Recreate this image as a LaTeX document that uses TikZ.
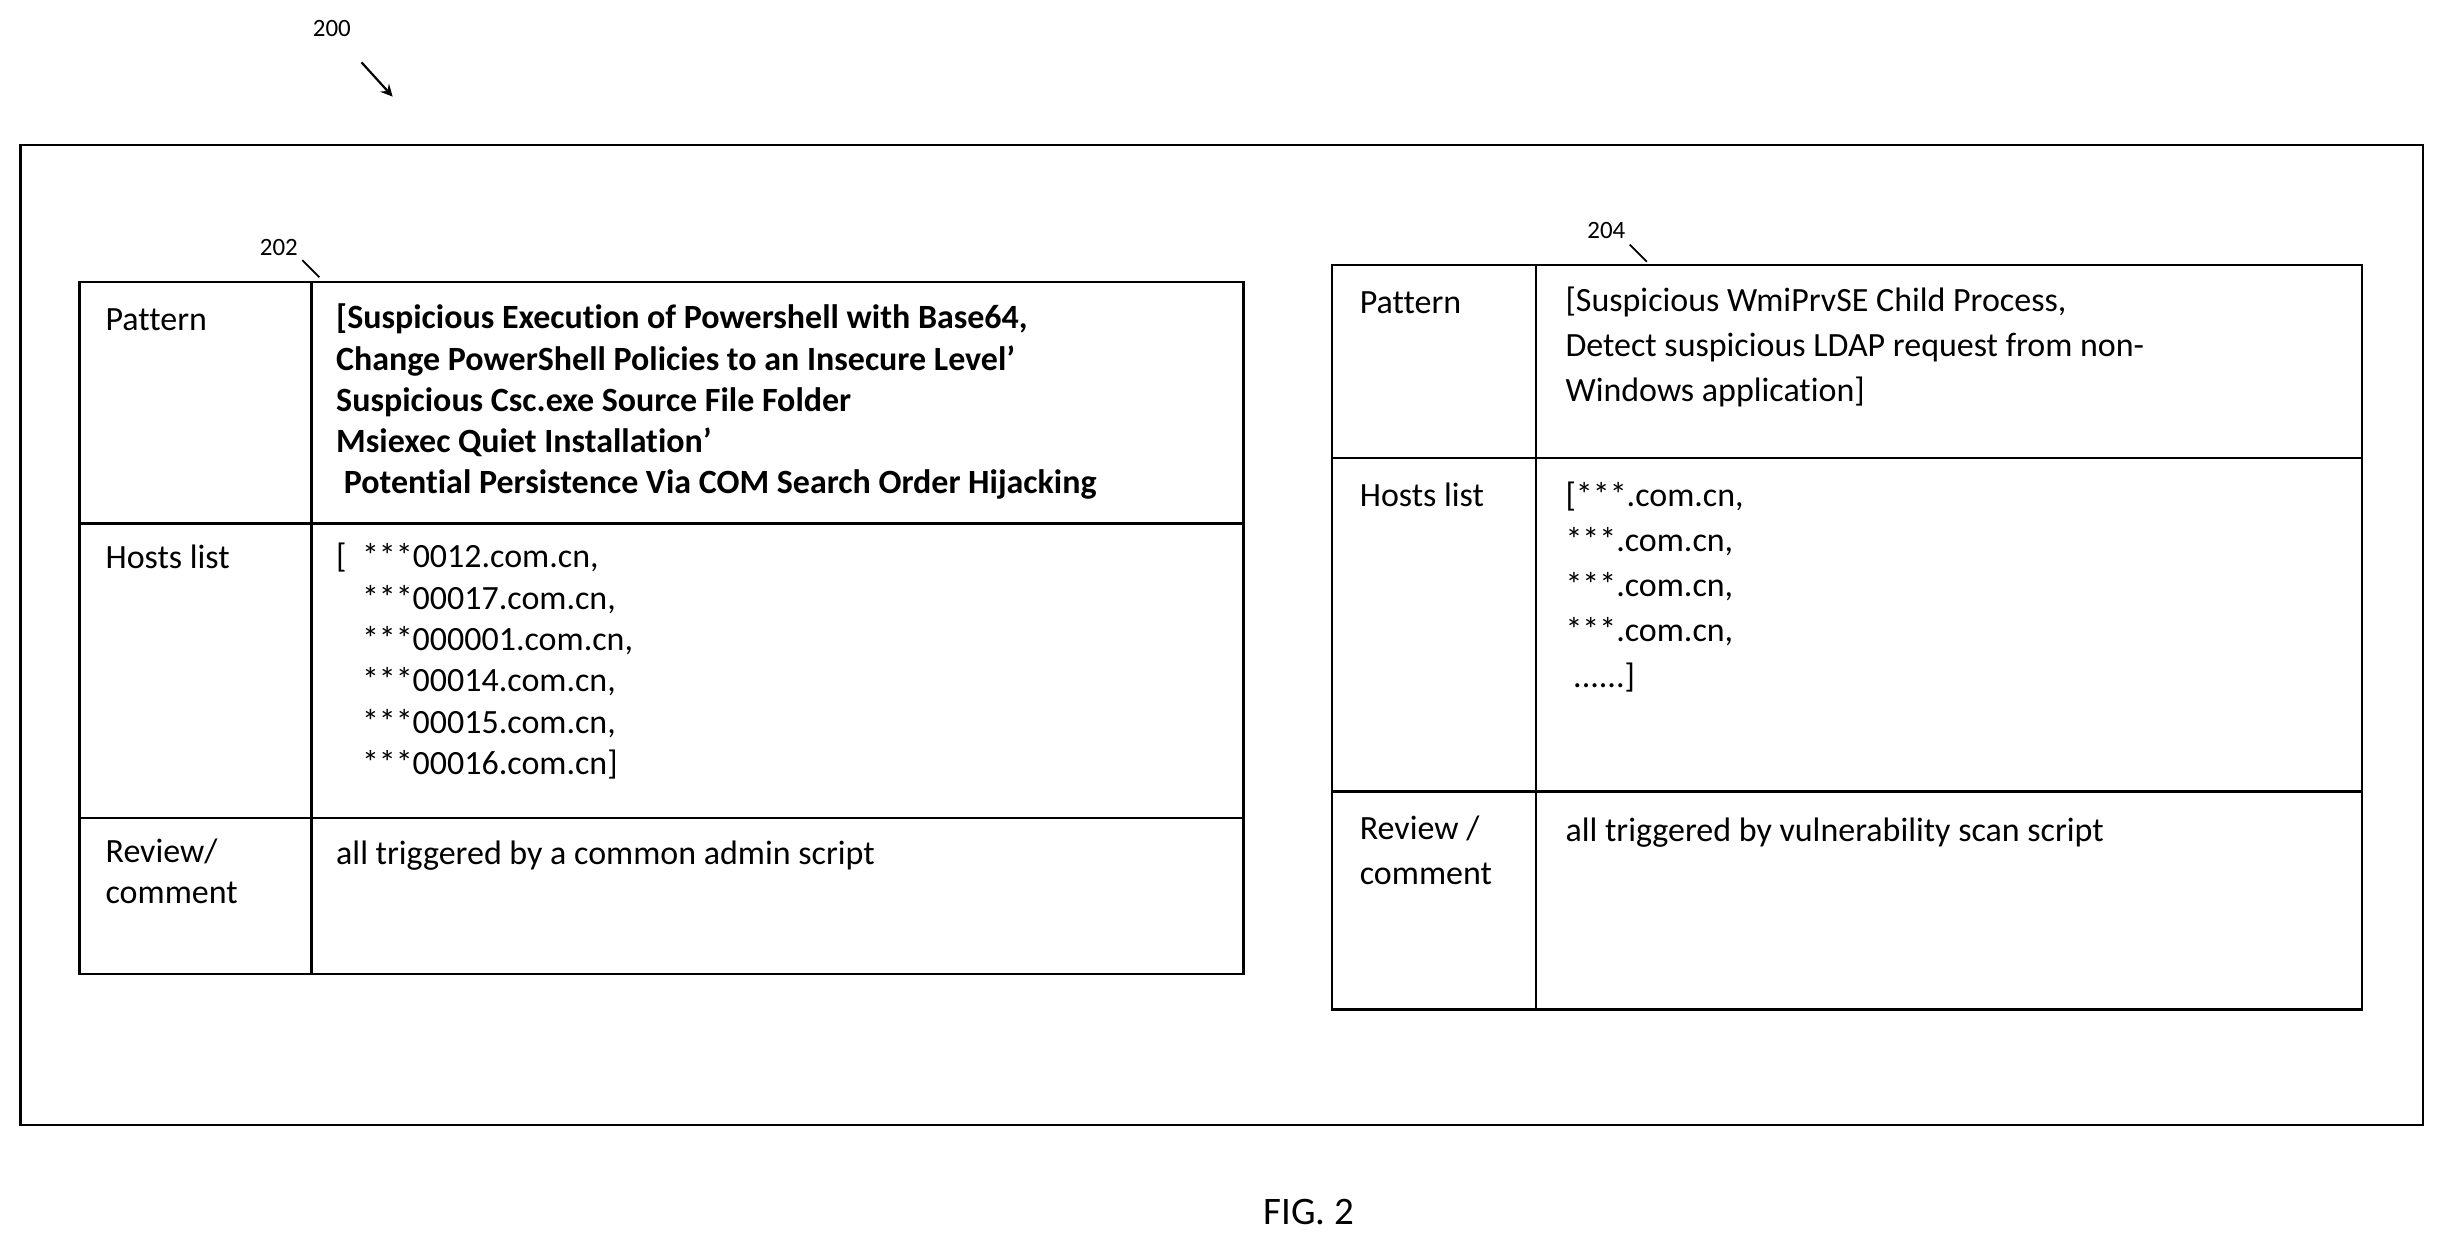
\documentclass[tikz,border=0pt]{standalone}
\usepackage{fontspec}
\setmainfont{Carlito}[RawFeature={-liga}]
\begin{document}
\begin{tikzpicture}[x=0.5pt,y=-0.5pt,line width=0.8pt,
  txt/.style={anchor=base west,inner sep=0pt,align=left,font=\fontsize{10.9}{13.25}\selectfont},
  txtb/.style={txt,font=\fontsize{10.9}{13.25}\selectfont\bfseries},
  txt2/.style={anchor=base west,inner sep=0pt,align=left,font=\fontsize{10.9}{14.5}\selectfont},
  lbl/.style={inner sep=0pt,font=\fontsize{8}{9}\selectfont}]
\useasboundingbox (0,0) rectangle (1568,801);
\draw (13,93) rectangle (1555,722);
% table 1
\draw (51,181) rectangle (798,625);
\draw (200,181) -- (200,625);
\draw (51,336) -- (798,336);
\draw (51,525) -- (798,525);
\node[txt] (p1) at (67,212) {Pattern};
\node[txtb] (p1t) at (215,317) {[Suspicious Execution of Powershell with Base64,\\Change PowerShell Policies to an Insecure Level’\\Suspicious Csc.exe Source File Folder\\Msiexec Quiet Installation’\\\ Potential Persistence Via COM Search Order Hijacking};
\node[txt] (h1) at (67,365) {Hosts list};
\node[txt] (h1t) at (215,497) {[\ \ ***0012.com.cn,\\\phantom{[}\ \ ***00017.com.cn,\\\phantom{[}\ \ ***000001.com.cn,\\\phantom{[}\ \ ***00014.com.cn,\\\phantom{[}\ \ ***00015.com.cn,\\\phantom{[}\ \ ***00016.com.cn]};
\node[txt] (r1) at (67,580) {Review/\\comment};
\node[txt] (r1t) at (215,555) {all triggered by a common admin script};
% table 2
\draw (855,170) rectangle (1516,648);
\draw (986,170) -- (986,648);
\draw (855,294) -- (1516,294);
\draw (855,508) -- (1516,508);
\node[txt2] (p2) at (872,201) {Pattern};
\node[txt2] (p2t) at (1004,258) {[Suspicious WmiPrvSE Child Process,\\Detect suspicious LDAP request from non-\\Windows application]};
\node[txt2] (h2) at (872,325) {Hosts list};
\node[txt2] (h2t) at (1004,441) {[***.com.cn,\\***.com.cn,\\***.com.cn,\\***.com.cn,\\\ ......]};
\node[txt2] (r2) at (872,568) {Review /\\comment};
\node[txt2] (r2t) at (1004,540) {all triggered by vulnerability scan script};
% labels
\node[lbl] (l200) at (213,18) {200};
\coordinate (a1) at (232,40); \coordinate (a2) at (252,62);
\draw[-stealth,line width=0.7pt] (a1) -- (a2);
\node[lbl] (l202) at (179,159) {202};
\coordinate (b1) at (194,167); \coordinate (b2) at (205,178);
\draw[line width=0.6pt] (b1) -- (b2);
\node[lbl] (l204) at (1031,148) {204};
\coordinate (c1) at (1046,157); \coordinate (c2) at (1057,168);
\draw[line width=0.6pt] (c1) -- (c2);
\node[inner sep=0pt,font=\fontsize{12.5}{14}\selectfont] (fig) at (840,778) {FIG. 2};
\end{tikzpicture}
\end{document}
